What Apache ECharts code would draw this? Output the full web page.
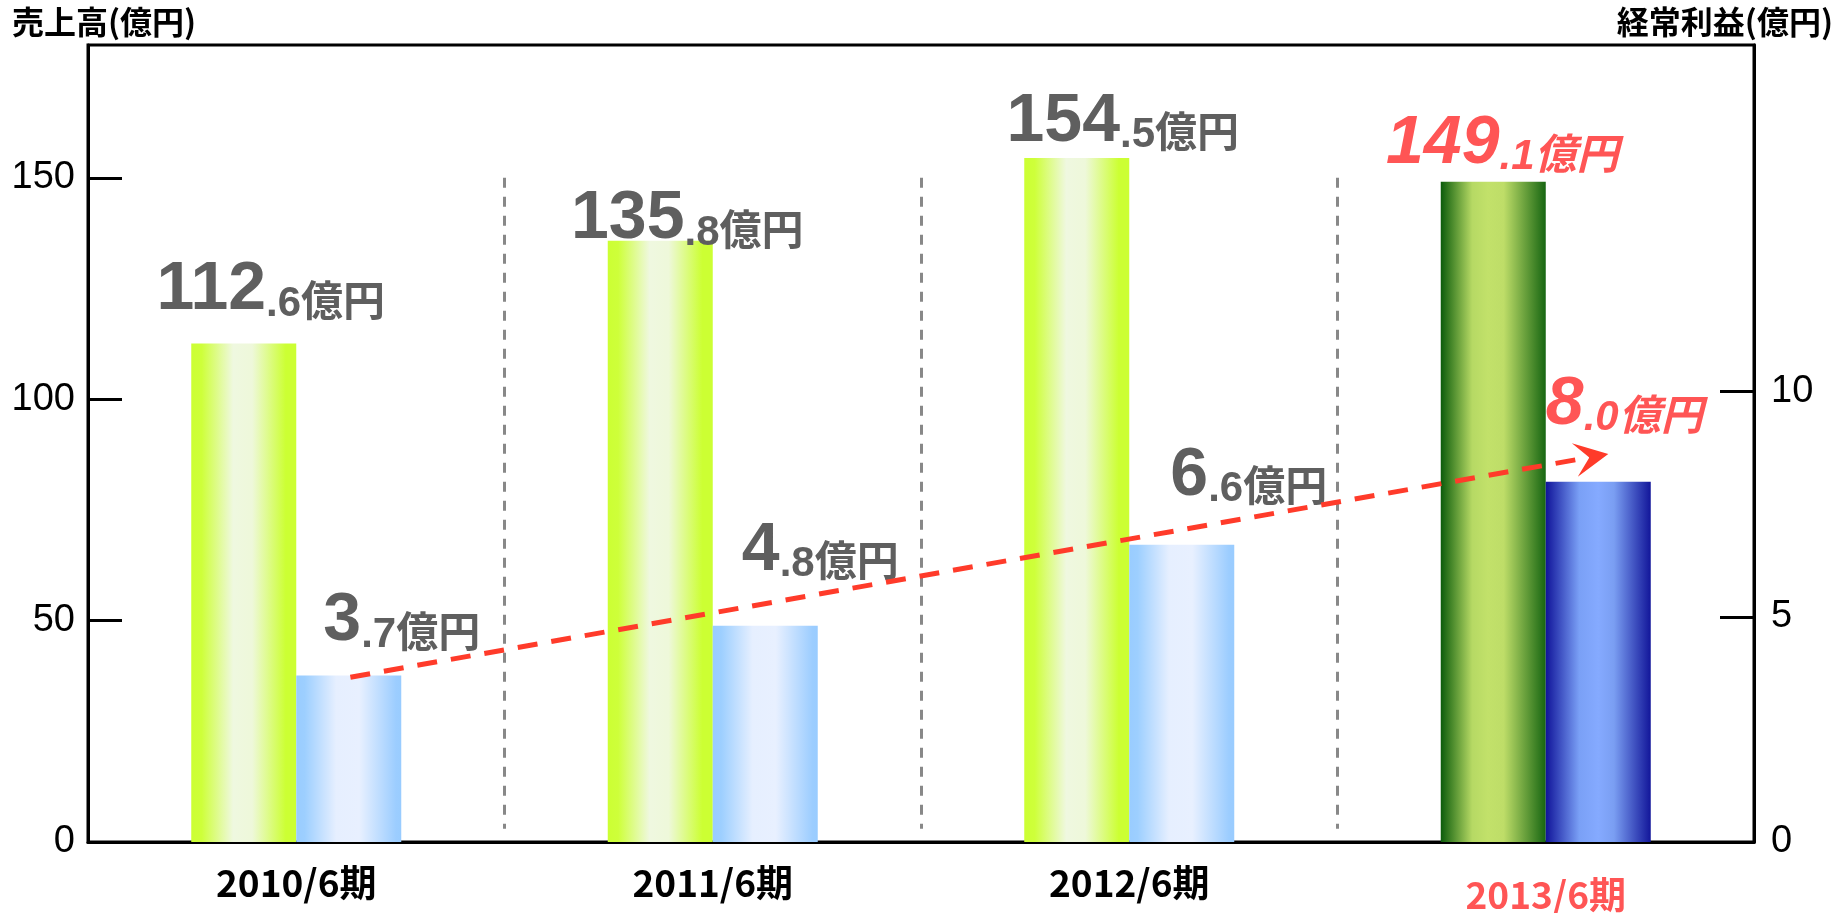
<!DOCTYPE html>
<html>
<head>
<meta charset="utf-8">
<script src="https://cdn.jsdelivr.net/npm/echarts@6/dist/echarts.min.js"></script>
<style>
html,body{margin:0;padding:0;background:#fff;}
#chart{width:1837px;height:913px;}
</style>
</head>
<body>
<div id="chart"></div>
<script>
// ---- data ----
const categories = ['2010/6期', '2011/6期', '2012/6期', '2013/6期'];
const sales = [112.6, 135.8, 154.5, 149.1];      // 売上高 (億円)
const profit = [3.7, 4.8, 6.6, 8.0];             // 経常利益 (億円)
const salesTicks = [0, 50, 100, 150];
const profitTicks = [0, 5, 10];
const salesAxisName = '売上高(億円)';
const profitAxisName = '経常利益(億円)';
const unit = '億円';
const separatorX = [1, 2, 3];        // category boundaries
const separatorY = [150, 3];         // extent of the dashed dividers (sales axis)
const trendArrow = [[0.63, 3.66], [3.61, 8.55]]; // trend arrow (profit axis)

// ---- styles ----
const HL = 3; // highlighted (latest) period
const RED = '#ff5555';
const GRAY = '#5f5f5f';
const numFont = "'Liberation Sans','Noto Sans CJK JP',sans-serif";
const cjkFont = "'Noto Sans CJK JP','Liberation Sans',sans-serif";

function hGrad(stops) {
  return new echarts.graphic.LinearGradient(0, 0, 1, 0,
    stops.map(s => ({ offset: s[0], color: s[1] })));
}
const limeGrad = hGrad([[0, '#ccff33'], [0.1, '#ceff3a'], [0.4, '#eff8e0'], [0.58, '#eef8da'], [0.9, '#ccff33'], [1, '#ccff33']]);
const skyGrad = hGrad([[0, '#99ccff'], [0.08, '#9dcfff'], [0.38, '#e6efff'], [0.6, '#e8f0ff'], [0.95, '#9ccdff'], [1, '#99ccff']]);
const greenGrad = hGrad([[0, '#0b5c0b'], [0.3, '#b6d964'], [0.45, '#c2e16a'], [0.6, '#bedd68'], [1, '#176612']]);
const navyGrad = hGrad([[0, '#10149a'], [0.32, '#7aa0f6'], [0.5, '#85aaff'], [0.65, '#7a9ef2'], [1, '#12169a']]);

const salesLabelOffset = [[27, -18], [27, 14], [46, -1], [9, -3]];
const profitLabelOffset = [[53, -19], [55, -40], [67, -34], [26, -42]];

const richStyles = {
  a:  { fontFamily: numFont, fontSize: 68, fontWeight: 'bold', color: GRAY, lineHeight: 70 },
  b:  { fontFamily: numFont, fontSize: 42, fontWeight: 'bold', color: GRAY, lineHeight: 67, verticalAlign: 'bottom' },
  ha: { fontFamily: numFont, fontSize: 68, fontWeight: 'bold', fontStyle: 'italic', color: RED, lineHeight: 70 },
  hb: { fontFamily: numFont, fontSize: 42, fontWeight: 'bold', fontStyle: 'italic', color: RED, lineHeight: 67, verticalAlign: 'bottom' }
};
function valueLabel(p) {
  const parts = Number(p.value).toFixed(1).split('.');
  const hl = p.dataIndex === HL;
  return '{' + (hl ? 'ha' : 'a') + '|' + parts[0] + '}{' + (hl ? 'hb' : 'b') + '|.' + parts[1] + unit + '}';
}
function buildBars(values, offsets, hlColor) {
  return values.map((v, i) => {
    const item = { value: v, label: { offset: offsets[i] } };
    if (i === HL) item.itemStyle = { color: hlColor };
    return item;
  });
}

const chart = echarts.init(document.getElementById('chart'), null, { renderer: 'canvas' });
const option = {
  animation: false,
  backgroundColor: '#fff',
  title: [
    { text: salesAxisName, left: 12, top: 6, padding: 0,
      textStyle: { fontFamily: cjkFont, fontSize: 32, fontWeight: 'bold', color: '#000' } },
    { text: profitAxisName, right: 4, top: 6, padding: 0,
      textStyle: { fontFamily: cjkFont, fontSize: 32, fontWeight: 'bold', color: '#000' } }
  ],
  grid: { left: 88, right: 83, top: 45, bottom: 61, show: true, borderColor: '#000', borderWidth: 3, backgroundColor: 'transparent' },
  xAxis: [
    {
      type: 'category', data: categories,
      axisLine: { lineStyle: { color: '#000', width: 3 } },
      axisTick: { show: false },
      axisLabel: {
        margin: 22,
        formatter: (v, i) => (i === HL ? '{h|' + v + '}' : '{n|' + v + '}'),
        rich: {
          n: { fontFamily: cjkFont, fontSize: 37, fontWeight: 'bold', color: '#000' },
          h: { fontFamily: cjkFont, fontSize: 37, fontWeight: 'bold', color: RED, padding: [12, 0, 0, 0] }
        }
      }
    },
    { type: 'value', min: 0, max: 4, show: false }
  ],
  yAxis: [
    {
      type: 'value', min: 0, max: 180, interval: 50,
      axisLine: { show: true, lineStyle: { color: '#000', width: 3 } },
      axisTick: { show: true, inside: true, length: 34, lineStyle: { color: '#000', width: 3 }, customValues: salesTicks.slice(1) },
      axisLabel: { margin: 13, fontFamily: numFont, fontSize: 38, color: '#000', customValues: salesTicks },
      splitLine: { show: false }
    },
    {
      type: 'value', min: 0, max: 17.7, interval: 5,
      axisLine: { show: true, lineStyle: { color: '#000', width: 3 } },
      axisTick: { show: true, inside: true, length: 34, lineStyle: { color: '#000', width: 3 }, customValues: profitTicks.slice(1) },
      axisLabel: { margin: 17, fontFamily: numFont, fontSize: 38, color: '#000', customValues: profitTicks },
      splitLine: { show: false }
    }
  ],
  series: [
    {
      name: salesAxisName, type: 'bar', xAxisIndex: 0, yAxisIndex: 0,
      barWidth: 105, barGap: '0%',
      itemStyle: { color: limeGrad },
      label: { show: true, position: 'top', distance: 0, formatter: valueLabel, rich: richStyles },
      data: buildBars(sales, salesLabelOffset, greenGrad),
      silent: true
    },
    {
      name: profitAxisName, type: 'bar', xAxisIndex: 0, yAxisIndex: 1,
      barWidth: 105, barGap: '0%',
      itemStyle: { color: skyGrad },
      label: { show: true, position: 'top', distance: 0, formatter: valueLabel, rich: richStyles },
      data: buildBars(profit, profitLabelOffset, navyGrad),
      silent: true
    },
    {
      name: 'dividers', type: 'line', xAxisIndex: 1, yAxisIndex: 0, data: [], silent: true,
      markLine: {
        silent: true, symbol: ['none', 'none'], label: { show: false },
        lineStyle: { color: '#888', width: 3, type: [10, 9] },
        data: separatorX.map(x => [{ coord: [x, separatorY[0]] }, { coord: [x, separatorY[1]] }])
      }
    },
    {
      name: 'trend', type: 'line', xAxisIndex: 1, yAxisIndex: 1, data: [], silent: true,
      markLine: {
        silent: true, symbol: ['none', 'path://M0,30 L15,0 L30,30 L15,17 Z'], symbolSize: 34, label: { show: false },
        lineStyle: { color: '#ff3b2a', width: 5, type: [20, 14], opacity: 1 },
        itemStyle: { color: '#ff3b2a' },
        data: [[{ coord: trendArrow[0] }, { coord: trendArrow[1] }]]
      }
    }
  ]
};
chart.setOption(option);
</script>
</body>
</html>
